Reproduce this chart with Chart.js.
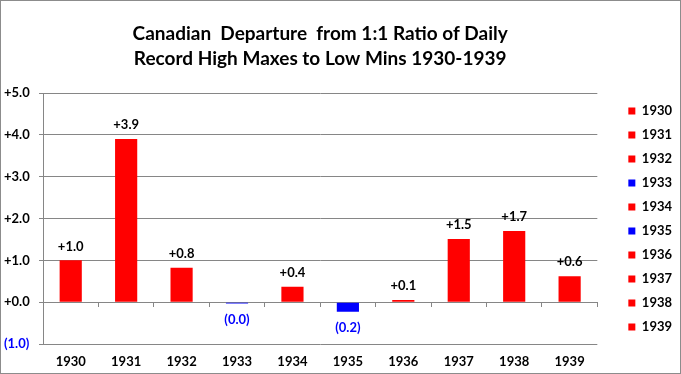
<!DOCTYPE html>
<html>
<head>
<meta charset="utf-8">
<script src="https://cdn.jsdelivr.net/npm/chart.js@4"></script>
<style>
  html, body { margin: 0; padding: 0; background: #fff; }
  #wrap { width: 681px; height: 374px; box-sizing: border-box; border: 1px solid #8c8c8c; }
  #c { display: block; }
</style>
</head>
<body>
<div id="wrap"><canvas id="c" width="679" height="372"></canvas></div>
<script>
const categories = ['1930','1931','1932','1933','1934','1935','1936','1937','1938','1939'];
const departures = [1.0, 3.9, 0.82, -0.03, 0.37, -0.23, 0.05, 1.51, 1.70, 0.62];
const barColors = ['#ff0000','#ff0000','#ff0000','#0000ff','#ff0000','#0000ff','#ff0000','#ff0000','#ff0000','#ff0000'];
const titleLines = ['Canadian  Departure  from 1:1 Ratio of Daily', 'Record High Maxes to Low Mins 1930-1939'];
const yMin = -1, yMax = 5, yStep = 1;

const FONT = 'Lato, "Open Sans", sans-serif';
const GRID = '#868686';

function fmt(v) {
  if (v < 0) return '(' + Math.abs(v).toFixed(1) + ')';
  return '+' + Math.abs(v).toFixed(1);
}

const valueLabels = {
  id: 'valueLabels',
  afterDatasetsDraw(chart) {
    const ctx = chart.ctx;
    const meta = chart.getDatasetMeta(0);
    const data = chart.data.datasets[0].data;
    ctx.save();
    ctx.font = 'bold 13px ' + FONT;
    ctx.textAlign = 'center';
    ctx.textBaseline = 'middle';
    meta.data.forEach((bar, i) => {
      const v = data[i];
      if (v >= 0) {
        ctx.fillStyle = '#000';
        ctx.fillText(fmt(v), bar.x, Math.min(bar.y, bar.base) - 14);
      } else {
        ctx.fillStyle = '#0000ff';
        ctx.fillText(fmt(v), bar.x, Math.max(bar.y, bar.base) + 16);
      }
    });
    ctx.restore();
  }
};

new Chart(document.getElementById('c'), {
  type: 'bar',
  data: {
    labels: categories,
    datasets: [{
      data: departures,
      backgroundColor: barColors,
      borderWidth: 0,
      barPercentage: 0.4,
      categoryPercentage: 1.0
    }]
  },
  options: {
    responsive: false,
    animation: false,
    layout: { padding: { left: 3, right: -2, top: 0, bottom: 0 } },
    plugins: {
      title: {
        display: true,
        text: titleLines,
        fullSize: false,
        color: '#000',
        font: { family: FONT, size: 19, weight: 'bold', lineHeight: 25 / 19 },
        padding: { top: 20, bottom: 22 }
      },
      legend: {
        display: true,
        position: 'right',
        fullSize: true,
        align: 'start',
        title: {
          display: true,
          text: ' ',
          padding: { top: 81, bottom: 0 },
          font: { family: FONT, size: 10, lineHeight: 1.15 }
        },
        labels: {
          boxWidth: 7,
          boxHeight: 7,
          padding: 11,
          color: '#000',
          font: { family: FONT, size: 13, weight: 'bold' },
          generateLabels: () => categories.map((c, i) => ({
            text: c,
            fontColor: '#000',
            fillStyle: barColors[i],
            strokeStyle: barColors[i],
            lineWidth: 0,
            hidden: false,
            index: i,
            datasetIndex: 0
          }))
        }
      },
      tooltip: { enabled: false }
    },
    scales: {
      x: {
        type: 'category',
        offset: true,
        grid: { display: false, drawTicks: false },
        border: { display: false },
        ticks: { color: '#000', padding: 10, font: { family: FONT, size: 13, weight: 'bold' } },
        afterFit: s => { s.height = 29; }
      },
      x2: {
        type: 'category',
        position: { y: 0 },
        offset: true,
        grid: { display: true, offset: true, drawOnChartArea: false, drawTicks: true, tickLength: 4, color: GRID },
        border: { display: true, color: GRID },
        ticks: { display: false }
      },
      y: {
        min: yMin,
        max: yMax,
        ticks: {
          stepSize: yStep,
          crossAlign: 'far',
          color: ctx => ctx.tick.value < 0 ? '#0000ff' : '#000',
          font: { family: FONT, size: 13, weight: 'bold' },
          callback: v => fmt(v)
        },
        grid: { color: GRID, tickLength: 4, drawTicks: true },
        border: { display: true, color: GRID },
        afterFit: s => { s.width = 39; }
      },
      gap: {
        type: 'linear',
        position: 'right',
        display: true,
        grid: { display: false },
        border: { display: false },
        ticks: { display: false },
        afterFit: s => { s.width = 20; }
      }
    }
  },
  plugins: [valueLabels]
});
</script>
</body>
</html>
